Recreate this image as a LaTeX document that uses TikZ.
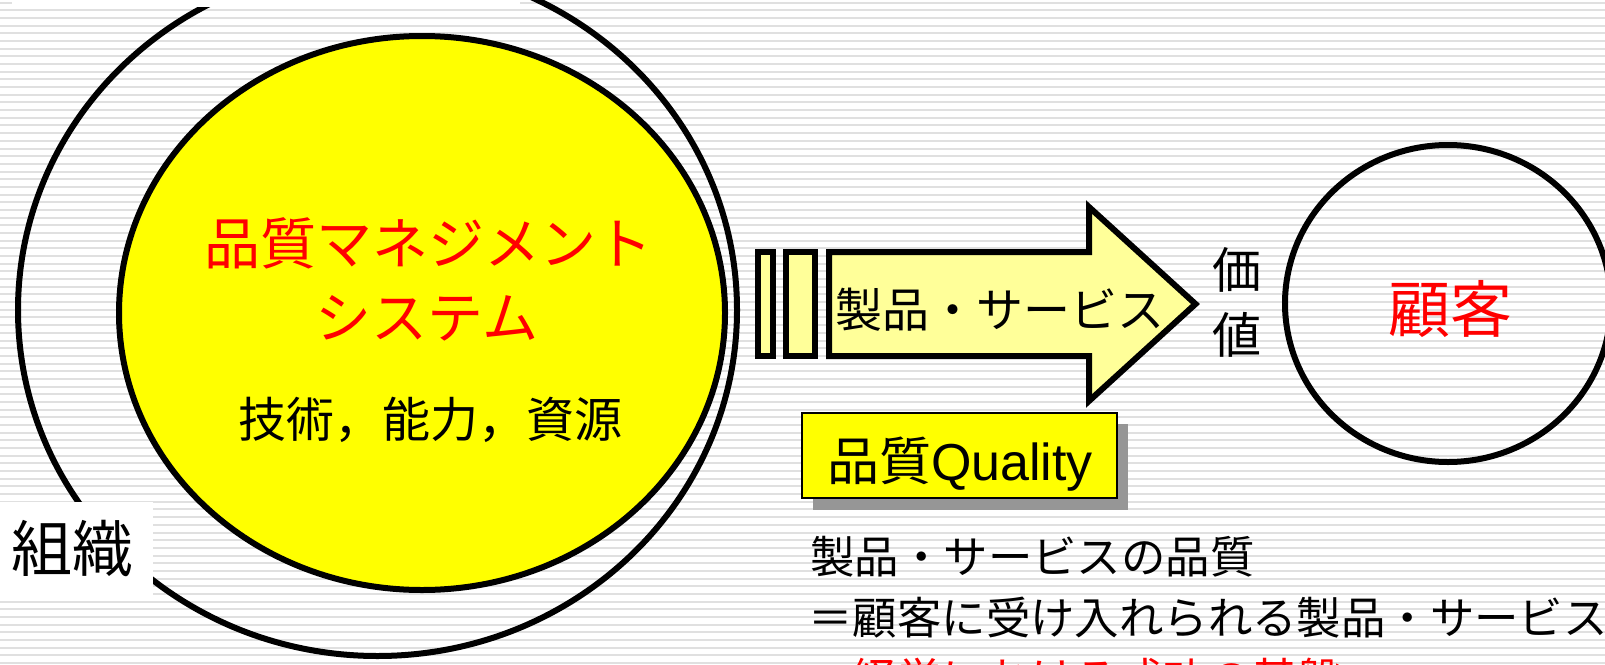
\documentclass[tikz,border=0pt]{standalone}
\usepackage{fontspec}
\setmainfont{Liberation Sans}
\newfontfamily\jp{Noto Sans CJK JP}
\definecolor{qred}{HTML}{FF0000}
\definecolor{qyellow}{HTML}{FFFF00}
\definecolor{lyellow}{HTML}{FFFF99}
\definecolor{shadowgray}{HTML}{969696}
\definecolor{stripegray}{HTML}{E0E0E0}
\newcommand\fsz[2]{\fontsize{#1pt}{#2pt}\selectfont}
\begin{document}
\begin{tikzpicture}[x=0.5pt,y=-0.5pt,
  ring/.style={line width=3pt, draw=black},
  jptext/.style={inner sep=0pt, font=\jp},
  stripe/.style={line width=1pt, draw=stripegray},
  deftext/.style={inner sep=0pt, anchor=west, font=\jp\fsz{22.2}{30.5}},
  arrowpart/.style={line width=3pt, draw=black, fill=lyellow, line join=miter}]
\useasboundingbox (0,0) rectangle (1605,664);
\clip (0,0) rectangle (1605,664);
\fill[white] (0,0) rectangle (1605,664);
\foreach \k in {0,...,86} \draw[stripe] (0,{2.6+7.68*\k}) -- (1605,{2.6+7.68*\k});
% organisation ring
\draw[ring] (377.5,310) ellipse [x radius=179.75pt, y radius=173pt];
\fill[white] (12,0) rectangle (520,6.5);
% QMS ellipse
\draw[ring, fill=qyellow] (422,313) ellipse [x radius=151.5pt, y radius=138.5pt];
\node[jptext, text=qred, font=\jp\fsz{28}{34}] (qms1) at (428,243) {品質マネジメント};
\node[jptext, text=qred, font=\jp\fsz{28}{34}] (qms2) at (427,318) {システム};
\node[jptext, font=\jp\fsz{24}{29}] (res) at (430,420) {技術，能力，資源};
% organisation label
\fill[white] (0,502) rectangle (153,595);
\node[jptext, font=\jp\fsz{30.5}{36}] (org) at (72,548) {組織};
% arrow
\draw[arrowpart] (757.5,252) rectangle (772.5,356);
\draw[arrowpart] (785.5,252) rectangle (814.5,356);
\draw[arrowpart] (829,252) -- (1089,252) -- (1089,207) -- (1195.5,304) -- (1089,401) -- (1089,356) -- (829,356) -- cycle;
\node[jptext, font=\jp\fsz{23.5}{28}] (prod) at (1000,310) {製品・サービス};
\node[jptext, font=\jp\fsz{24.5}{32.5}, align=center] (value) at (1237,302) {価\\値};
% customer
\draw[ring] (1448,303.5) ellipse [x radius=81.5pt, y radius=79.25pt];
\node[jptext, text=qred, font=\jp\fsz{31}{37}] (cust) at (1450,309) {顧客};
% quality box
\fill[shadowgray] (813,424) rectangle (1128,510);
\draw[line width=0.7pt, fill=qyellow] (802,413) rectangle (1117,498);
\node[inner sep=0pt, font=\fsz{26}{31}, anchor=base] (qual) at (960,480) {{\jp 品質}Quality};
% definition text
\node[deftext] (def1) at (810,557) {製品・サービスの品質};
\node[deftext] (def2) at (808,618) {＝顧客に受け入れられる製品・サービス};
\node[deftext, text=qred] (def3) at (808,679) {＝経営における成功の基盤};
\end{tikzpicture}
\end{document}
